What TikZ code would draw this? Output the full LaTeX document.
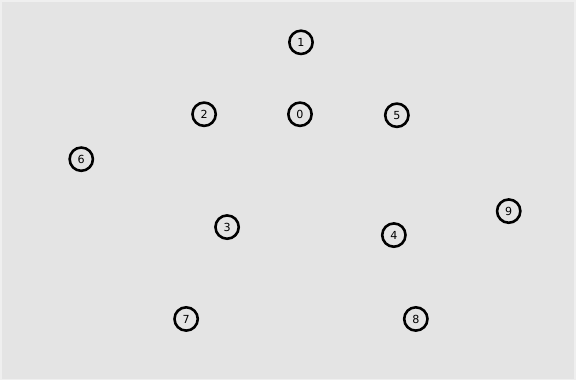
\documentclass[tikz,border=0pt]{standalone}
\usepackage{fontspec}
\setmainfont{DejaVu Sans}
\definecolor{bggray}{HTML}{E4E4E4}
\definecolor{edgegray}{HTML}{EFEFEF}
\tikzset{vertex/.style={circle,draw=black,line width=2.2pt,minimum size=0.7cm,inner sep=0pt,font=\fontsize{9.5}{10}\selectfont}}
\begin{document}
\begin{tikzpicture}[x=0.03cm,y=-0.03cm]
\fill[bggray] (0,0) rectangle (576,380);
\draw[edgegray,line width=1.5pt] (0.5,0.5) rectangle (575.5,379.5);
\node[vertex] (n1) at (301,42) {1};
\node[vertex] (n2) at (204,114) {2};
\node[vertex] (n0) at (300,114) {0};
\node[vertex] (n5) at (397,115) {5};
\node[vertex] (n6) at (81,159) {6};
\node[vertex] (n9) at (509,211) {9};
\node[vertex] (n3) at (227,227) {3};
\node[vertex] (n4) at (394,235) {4};
\node[vertex] (n7) at (186,319) {7};
\node[vertex] (n8) at (416,319) {8};
\end{tikzpicture}
\end{document}
